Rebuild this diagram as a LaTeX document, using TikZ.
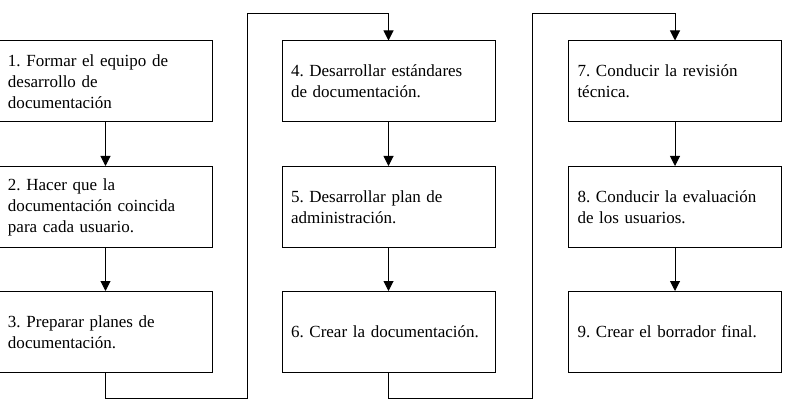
\documentclass[tikz,border=0pt]{standalone}
\usepackage{fontspec}
\setmainfont{Liberation Serif}
\usetikzlibrary{arrows.meta}
\begin{document}
\frenchspacing
\begin{tikzpicture}[x=1pt,y=-1pt,
  stepbox/.style={draw, line width=1pt, minimum width=211pt, minimum height=81pt,
    text width=195pt, inner xsep=9pt, align=left, font=\fontsize{17}{21}\selectfont},
  conn/.style={draw, line width=1pt, -{Triangle[length=10pt,width=10pt]}}]
\useasboundingbox (0,0) rectangle (786,406);
\node[stepbox] (b1) at (105.5,81.5) {1. Formar el equipo de\\desarrollo de\\documentación};
\node[stepbox] (b2) at (105.5,207) {2. Hacer que la\\documentación coincida\\para cada usuario.};
\node[stepbox] (b3) at (105.5,332) {3. Preparar planes de\\documentación.};
\node[stepbox] (b4) at (388.5,81.5) {4. Desarrollar estándares\\de documentación.};
\node[stepbox] (b5) at (388.5,207) {5. Desarrollar plan de\\administración.};
\node[stepbox] (b6) at (388.5,332) {6. Crear la documentación.};
\node[stepbox] (b7) at (675,81.5) {7. Conducir la revisión\\técnica.};
\node[stepbox] (b8) at (675,207) {8. Conducir la evaluación\\de los usuarios.};
\node[stepbox] (b9) at (675,332) {9. Crear el borrador final.};
\coordinate (c1) at (247,398);
\coordinate (c2) at (247,14);
\coordinate (c3) at (532,398);
\coordinate (c4) at (532,14);
\draw[conn] (b1) -- (b2);
\draw[conn] (b2) -- (b3);
\draw[conn] (b3.south) |- (c1) -- (c2) -| (b4.north);
\draw[conn] (b4) -- (b5);
\draw[conn] (b5) -- (b6);
\draw[conn] (b6.south) |- (c3) -- (c4) -| (b7.north);
\draw[conn] (b7) -- (b8);
\draw[conn] (b8) -- (b9);
\end{tikzpicture}
\end{document}
